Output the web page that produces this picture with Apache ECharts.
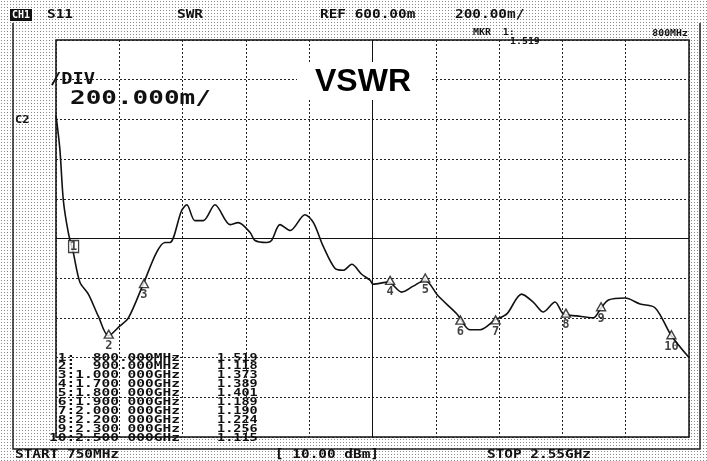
<!DOCTYPE html>
<html>
<head>
<meta charset="utf-8">
<script src="https://cdn.jsdelivr.net/npm/echarts@6/dist/echarts.min.js"></script>
<style>
html, body { margin: 0; padding: 0; }
body { background: #fff radial-gradient(circle, #8a8a8a 0.7px, transparent 1px) 0 0 / 3px 3px; }
#chart { width: 707px; height: 461px; }
</style>
</head>
<body>
<div id="chart"></div>
<script>
// trace: frequency in MHz, SWR
const traceFreq = [750, 761, 771, 785, 799, 818, 842, 870, 899, 932, 956, 998, 1036, 1060, 1074, 1107, 1122, 1145, 1169, 1202,
  1245, 1268, 1302, 1316, 1349, 1363, 1387, 1416, 1458, 1482, 1510, 1543, 1567, 1591, 1619, 1643, 1652, 1695, 1733, 1766,
  1799, 1837, 1890, 1927, 1956, 1999, 2032, 2074, 2107, 2136, 2169, 2193, 2231, 2278, 2300, 2321, 2368, 2411, 2454, 2500, 2550];
const traceSwr = [2.22, 2.05, 1.79, 1.63, 1.53, 1.38, 1.32, 1.21, 1.11, 1.16, 1.20, 1.37, 1.53, 1.58, 1.58, 1.74, 1.77, 1.69, 1.69, 1.77,
  1.67, 1.68, 1.63, 1.59, 1.58, 1.59, 1.67, 1.64, 1.72, 1.68, 1.56, 1.45, 1.44, 1.47, 1.42, 1.39, 1.37, 1.38, 1.33, 1.36,
  1.39, 1.31, 1.22, 1.14, 1.14, 1.19, 1.22, 1.32, 1.28, 1.23, 1.28, 1.22, 1.21, 1.20, 1.25, 1.29, 1.30, 1.27, 1.25, 1.11, 1.00];

// markers
const markerFreq = [800, 900, 1000, 1700, 1800, 1900, 2000, 2200, 2300, 2500];
const markerSwr = [1.519, 1.118, 1.373, 1.389, 1.401, 1.189, 1.190, 1.224, 1.256, 1.115];
const markerFreqText = ["800.000MHz", "900.000MHz", "1.000 000GHz", "1.700 000GHz", "1.800 000GHz",
  "1.900 000GHz", "2.000 000GHz", "2.200 000GHz", "2.300 000GHz", "2.500 000GHz"];

const mono = '"DejaVu Sans Mono", "Liberation Mono", monospace';

function txt(x, y, s, size, sx, align) {
  return {
    type: "text", x: x, y: y, scaleX: sx || 1, z: 100,
    style: { text: s, font: "bold " + size + "px " + mono, fill: "#111", align: align || "left", verticalAlign: "middle" }
  };
}

const graphics = [
  // outer frame of the screen
  { type: "polyline", z: 90, shape: { points: [[13, 23], [13, 449], [700, 449], [700, 23]] }, style: { stroke: "#222", lineWidth: 1.5, fill: null } },
  { type: "rect", z: 99, shape: { x: 10, y: 9, width: 22, height: 12 }, style: { fill: "#111" } },
  { type: "text", x: 21, y: 15, z: 100, style: { text: "CH1", font: "bold 10px " + mono, fill: "#fff", align: "center", verticalAlign: "middle" } },
  txt(47, 15, "S11", 12, 1.2),
  txt(177, 15, "SWR", 12, 1.2),
  txt(320, 15, "REF 600.00m", 12, 1.2),
  txt(455, 15, "200.00m/", 12, 1.2),
  txt(473, 33, "MKR  1:", 9, 1.1),
  txt(510, 42, "1.519", 9, 1.1),
  txt(688, 34, "800MHz", 9, 1.1, "right"),
  txt(15, 120, "C2", 11, 1.1),
  txt(50, 80, "/DIV", 15, 1.25),
  txt(70, 99, "200.000m/", 20, 1.3),
  txt(15, 455, "START 750MHz", 12, 1.2),
  txt(275, 455, "[ 10.00 dBm]", 12, 1.2),
  txt(487, 455, "STOP 2.55GHz", 12, 1.2),
  // VSWR title box
  { type: "rect", z: 99, shape: { x: 297, y: 62, width: 135, height: 38 }, style: { fill: "#fff" } },
  { type: "text", x: 363, y: 82, z: 100, style: { text: "VSWR", font: 'bold 32px "Liberation Sans", Arial, sans-serif', fill: "#000", align: "center", verticalAlign: "middle" } }
];

// marker table
markerFreq.forEach(function (f, i) {
  const y = 358 + i * 8.9;
  graphics.push(txt(180, y, (i + 1) + ":" + (f < 1000 ? "  " : "") + markerFreqText[i], 10, 1.45, "right"));
  graphics.push(txt(217, y, markerSwr[i].toFixed(3), 10, 1.35));
});

const chart = echarts.init(document.getElementById("chart"));
const dotted = { color: "#222", width: 1, type: [2, 2] };

chart.setOption({
  backgroundColor: "transparent",
  animation: false,
  grid: { left: 56, top: 40, right: 18, bottom: 24, show: true, backgroundColor: "#fff", borderColor: "#111", borderWidth: 1.5 },
  xAxis: [
    { type: "value", min: 750, max: 2550, show: false },
    // 10 screen divisions for the graticule
    { type: "value", min: 0, max: 10, interval: 1, axisLine: { show: false }, axisTick: { show: false },
      axisLabel: { show: false }, splitLine: { show: true, lineStyle: dotted } }
  ],
  yAxis: {
    type: "value", min: 0.6, max: 2.6, interval: 0.2,
    axisLine: { show: false }, axisTick: { show: false }, axisLabel: { show: false },
    splitLine: { show: true, lineStyle: dotted }
  },
  series: [
    {
      type: "line",
      xAxisIndex: 0,
      data: traceFreq.map(function (f, i) { return [f, traceSwr[i]]; }),
      showSymbol: false,
      smooth: 0.3,
      lineStyle: { color: "#111", width: 1.6 },
      markLine: {
        silent: true, symbol: "none", label: { show: false },
        lineStyle: { color: "#111", width: 1, type: "solid" },
        data: [{ xAxis: 1650 }, { yAxis: 1.6 }]
      },
      z: 5
    },
    {
      type: "scatter",
      xAxisIndex: 0,
      data: markerFreq.map(function (f, i) {
        const p = { value: [f, markerSwr[i]], name: String(i + 1) };
        if (i === 0) {
          p.symbol = "rect";
          p.symbolSize = [10, 12];
          p.symbolOffset = [0, -8];
          p.label = { position: "inside" };
        }
        return p;
      }),
      symbol: "triangle",
      symbolSize: [9, 8],
      itemStyle: { color: "#fff", borderColor: "#111", borderWidth: 1.4 },
      label: { show: true, position: "bottom", distance: 1, formatter: "{b}", color: "#111", fontFamily: mono, fontWeight: "bold", fontSize: 12 },
      z: 10
    }
  ],
  graphic: graphics
});
</script>
</body>
</html>
